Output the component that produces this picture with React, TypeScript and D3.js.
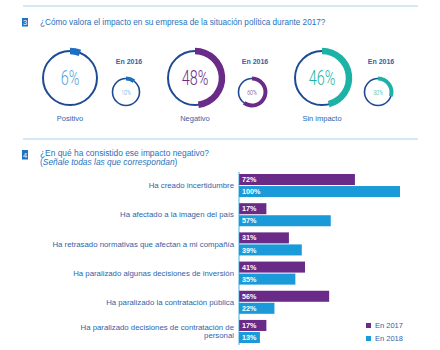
import React from "react";
import * as d3 from "d3";

const donutNames = ["Positivo", "Negativo", "Sin impacto"];
const values2017 = [6, 48, 46];
const values2016 = [10, 60, 30];
const donutColors = ["#1c6fc2", "#6a2a88", "#1cb3a6"];

const categories = [
  ["Ha creado incertidumbre"],
  ["Ha afectado a la imagen del país"],
  ["Ha retrasado normativas que afectan a mi compañía"],
  ["Ha paralizado algunas decisiones de inversión"],
  ["Ha paralizado la contratación pública"],
  ["Ha paralizado decisiones de contratación de", "personal"],
];
const seriesNames = ["En 2017", "En 2018"];
const serie2017 = [72, 17, 31, 41, 56, 17];
const serie2018 = [100, 57, 39, 35, 22, 13];
const barColors = ["#6a2a88", "#1a9ad8"];

const FONT = "'Liberation Sans', Arial, sans-serif";
const THIN = "Roboto, 'Liberation Sans', Arial, sans-serif";
const RING = "#1e4a94";
const TEXT = "#2f64a8";

function Donut({ cx, cy, r, w, value, color, big }: any) {
  const arc = d3.arc<any>()
    .innerRadius(r - w / 2)
    .outerRadius(r + w / 2)
    .startAngle(0)
    .endAngle((value / 100) * 2 * Math.PI);
  return (
    <g transform={`translate(${cx},${cy})`}>
      <circle r={r} fill="none" stroke={RING} strokeWidth={big ? 2 : 1.6} />
      <path d={arc({}) as string} fill={color} />
      <g transform={big ? "scale(0.72,1)" : "scale(0.7,1)"}>
        <text
          textAnchor="middle"
          dy="0.36em"
          fontFamily={THIN}
          fontWeight={300}
          fontSize={big ? 20 : 7.5}
          fill={color === "#1c6fc2" ? "#4fa3dc" : color}
        >
          {value}%
        </text>
      </g>
    </g>
  );
}

export default function App() {
  const W = 440, H = 350;
  const x = d3.scaleLinear().domain([0, 100]).range([239, 400]);
  const y = d3.scaleBand<number>()
    .domain(d3.range(categories.length))
    .range([174, 343])
    .paddingInner(0.21)
    .paddingOuter(0);
  const bh = (y.bandwidth() - 1) / 2;
  const bigX = [70, 195, 322];
  const smallX = [126, 252, 378];

  return (
    <svg width={W} height={H} style={{ position: "absolute", left: 0, top: 0, background: "#fff" }}>
      <line x1={23} x2={418} y1={6} y2={6} stroke="#a9d0ea" strokeWidth={1} />
      <rect x={22} y={18} width={6} height={8.5} fill="#1c74c3" />
      <text x={25} y={25.3} textAnchor="middle" fontFamily={FONT} fontSize={7.5} fill="#fff">3</text>
      <text x={40} y={25} fontFamily={FONT} fontSize={8.2} fill="#1f72bd">
        ¿Cómo valora el impacto en su empresa de la situación política durante 2017?
      </text>

      {donutNames.map((n, i) => (
        <g key={n}>
          <Donut cx={bigX[i]} cy={78} r={27} w={6.5} value={values2017[i]} color={donutColors[i]} big />
          <text x={bigX[i]} y={121} textAnchor="middle" fontFamily={FONT} fontSize={7.5} fill={TEXT}>{n}</text>
          <text x={smallX[i] + 3} y={64} textAnchor="middle" fontFamily={FONT} fontWeight="bold" fontSize={7} fill={TEXT}>En 2016</text>
          <Donut cx={smallX[i]} cy={92} r={13.5} w={4} value={values2016[i]} color={donutColors[i]} />
        </g>
      ))}

      <line x1={23} x2={418} y1={139} y2={139} stroke="#a9d0ea" strokeWidth={1} />
      <rect x={22} y={150} width={6} height={9.5} fill="#1c74c3" />
      <text x={25} y={158} textAnchor="middle" fontFamily={FONT} fontSize={7.5} fill="#fff">4</text>
      <text x={40} y={156} fontFamily={FONT} fontSize={8.4} fill="#1f72bd">¿En qué ha consistido ese impacto negativo?</text>
      <text x={40} y={165} fontFamily={FONT} fontSize={8.4} fill="#1f72bd">
        (<tspan fontStyle="italic">Señale todas las que correspondan</tspan>)
      </text>

      {categories.map((lines, i) => {
        const y0 = y(i)!;
        const vals = [serie2017[i], serie2018[i]];
        const mid = y0 + y.bandwidth() / 2;
        return (
          <g key={i}>
            {vals.map((v, j) => {
              const by = y0 + j * (bh + 1);
              return (
                <g key={j}>
                  <rect x={x(0)} y={by} width={x(v) - x(0)} height={bh} fill={barColors[j]} />
                  <text x={x(0) + 3} y={by + bh / 2} dy="0.36em" fontFamily={FONT} fontWeight="bold" fontSize={7.2} fill="#fff">{v}%</text>
                </g>
              );
            })}
            {lines.map((l, k) => (
              <text key={k} x={234} y={mid + (k - (lines.length - 1) / 2) * 8.5} dy="0.35em" textAnchor="end" fontFamily={FONT} fontSize={7.8} fill={TEXT}>{l}</text>
            ))}
          </g>
        );
      })}
      <line x1={x(0)} x2={x(0)} y1={172} y2={345} stroke="#1a9ad8" strokeWidth={0.8} />

      {seriesNames.map((s, j) => (
        <g key={s} transform={`translate(366,${323 + j * 13})`}>
          <rect width={5} height={5} fill={barColors[j]} />
          <text x={9} y={2.5} dy="0.36em" fontFamily={FONT} fontSize={7.5} fill={TEXT}>{s}</text>
        </g>
      ))}
    </svg>
  );
}
